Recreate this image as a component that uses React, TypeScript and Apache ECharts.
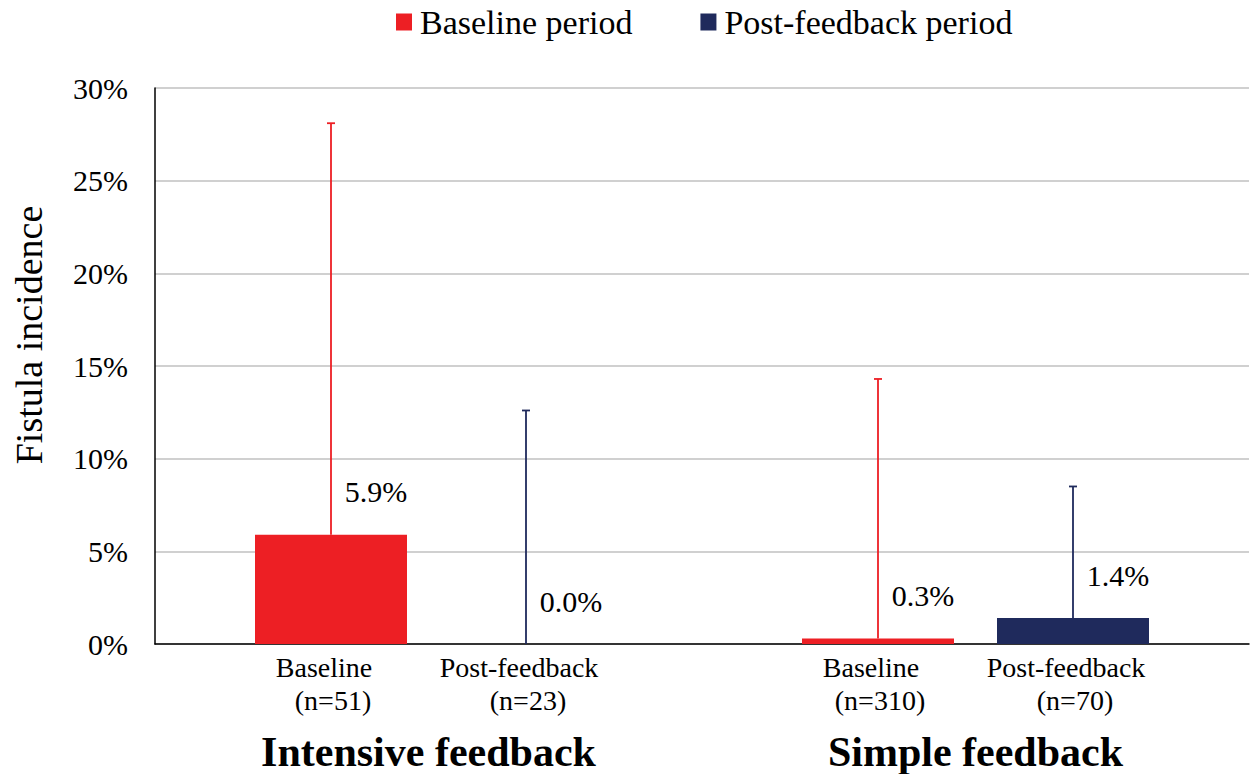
import React, { useEffect, useRef } from "react";
import * as echarts from "echarts";

const groups = ["Intensive feedback", "Simple feedback"];
const seriesNames = ["Baseline period", "Post-feedback period"];
const baselineValues = [5.9, 0.3];
const postValues = [0.0, 1.4];
const baselineUpper = [28.1, 14.3];
const postUpper = [12.6, 8.5];
const baselineLabels = [["Baseline", "(n=51)"], ["Baseline", "(n=310)"]];
const postLabels = [["Post-feedback", "(n=23)"], ["Post-feedback", "(n=70)"]];
const yTicks = [0, 5, 10, 15, 20, 25, 30];
const yTitle = "Fistula incidence";

const RED = "#ED1F24";
const NAVY = "#1F2A5C";
const FONT = "Liberation Serif";
const BAR_W = 152;
const GAP = 43;

export default function App() {
  const ref = useRef<HTMLDivElement>(null);
  useEffect(() => {
    if (!ref.current) return;
    const chart = echarts.init(ref.current, undefined, { renderer: "svg" });

    const errData: any[] = [];
    groups.forEach((_, i) => {
      errData.push([i, baselineValues[i], baselineUpper[i], -1, baselineLabels[i]]);
      errData.push([i, postValues[i], postUpper[i], 1, postLabels[i]]);
    });

    const renderErr = (params: any, api: any) => {
      const item = errData[params.dataIndex];
      const side = item[3];
      const color = side < 0 ? RED : NAVY;
      const off = (side * (BAR_W + GAP)) / 2;
      const base = api.coord([item[0], item[1]]);
      const top = api.coord([item[0], item[2]]);
      const zero = api.coord([item[0], 0]);
      const x = base[0] + off;
      const textStyle = {
        fill: "#000",
        fontSize: 28,
        fontFamily: FONT,
        align: "center",
        verticalAlign: "middle",
      };
      return {
        type: "group",
        children: [
          {
            type: "line",
            shape: { x1: x, y1: base[1], x2: x, y2: top[1] },
            style: { stroke: color, lineWidth: 1.8 },
          },
          {
            type: "line",
            shape: { x1: x - 4, y1: top[1], x2: x + 4, y2: top[1] },
            style: { stroke: color, lineWidth: 1.8 },
          },
          {
            type: "text",
            x: x - 7,
            y: zero[1] + 23,
            style: { ...textStyle, text: item[4][0] },
          },
          {
            type: "text",
            x: x + 2,
            y: zero[1] + 56,
            style: { ...textStyle, text: item[4][1] },
          },
        ],
      };
    };

    const labelOpt = {
      show: true,
      position: "top",
      offset: [45, -23],
      formatter: (p: any) => Number(p.value).toFixed(1) + "%",
      fontSize: 30,
      fontFamily: FONT,
      color: "#000",
    };

    chart.setOption({
      animation: false,
      backgroundColor: "#fff",
      textStyle: { fontFamily: FONT },
      legend: {
        top: 0,
        left: 391,
        itemWidth: 16,
        itemHeight: 17,
        itemGap: 68,
        icon: "rect",
        textStyle: {
          fontSize: 34,
          fontFamily: FONT,
          color: "#000",
          padding: [0, 0, 0, 3],
        },
        data: seriesNames,
      },
      graphic: [
        {
          type: "text",
          x: 29,
          y: 335,
          rotation: Math.PI / 2,
          style: {
            text: yTitle,
            fontSize: 38,
            fontFamily: FONT,
            fill: "#000",
            align: "center",
            verticalAlign: "middle",
          },
        },
      ],
      grid: { left: 155, right: 7, top: 88, bottom: 130 },
      xAxis: {
        type: "category",
        data: groups,
        axisLine: { lineStyle: { color: "#000", width: 1.5 } },
        axisTick: { show: false },
        axisLabel: {
          margin: 87,
          fontSize: 42,
          fontWeight: "bold",
          fontFamily: FONT,
          color: "#000",
        },
      },
      yAxis: {
        type: "value",
        min: yTicks[0],
        max: yTicks[yTicks.length - 1],
        interval: 5,
        axisLine: { show: true, lineStyle: { color: "#000", width: 1.5 } },
        axisTick: { show: false },
        axisLabel: {
          formatter: "{value}%",
          fontSize: 30,
          fontFamily: FONT,
          color: "#000",
          margin: 27,
        },
        splitLine: { lineStyle: { color: "#c0c0c0", width: 1.5 } },
      },
      series: [
        {
          name: seriesNames[0],
          type: "bar",
          data: baselineValues,
          barWidth: BAR_W,
          barGap: (GAP / BAR_W) * 100 + "%",
          itemStyle: { color: RED },
          label: labelOpt,
          z: 2,
        },
        {
          name: seriesNames[1],
          type: "bar",
          data: postValues,
          barWidth: BAR_W,
          itemStyle: { color: NAVY },
          label: labelOpt,
          z: 2,
        },
        {
          type: "custom",
          data: errData.map((d) => [d[0], d[1], d[2]]),
          encode: { x: 0, y: 2 },
          renderItem: renderErr,
          clip: false,
          silent: true,
          z: 3,
        },
      ],
    });
    return () => chart.dispose();
  }, []);
  return (
    <div
      ref={ref}
      style={{ position: "fixed", left: 0, top: 0, width: 1256, height: 774 }}
    />
  );
}
